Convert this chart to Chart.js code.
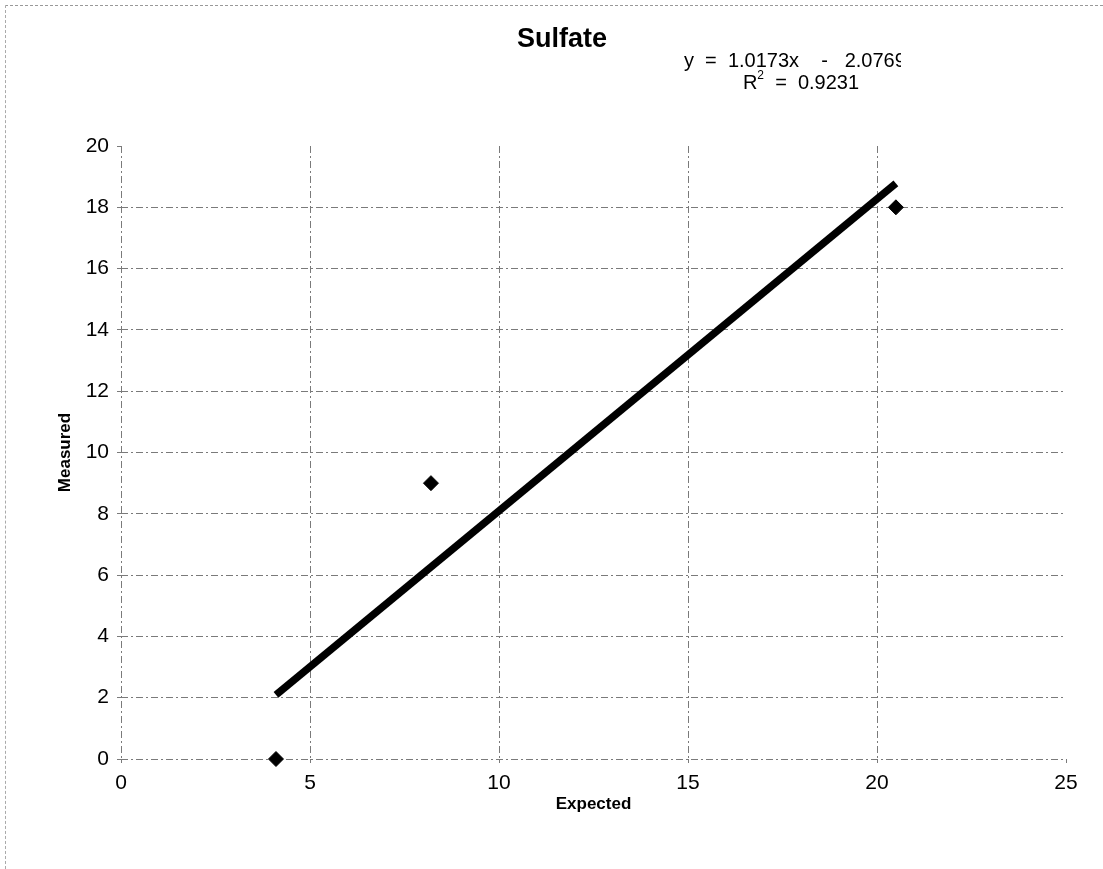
<!DOCTYPE html>
<html>
<head>
<meta charset="utf-8">
<script src="https://cdn.jsdelivr.net/npm/chart.js@4/dist/chart.umd.min.js"></script>
<style>
  html, body { margin: 0; padding: 0; background: #fff; }
  #wrap { position: relative; width: 1103px; height: 869px; }
  #frame { position: absolute; left: 5px; top: 5px; right: 0; bottom: 0;
           border-top: 1px dashed #999; border-left: 1px dashed #aaa; pointer-events: none; }
  canvas { position: absolute; left: 0; top: 0; }
</style>
</head>
<body>
<div id="wrap">
  <canvas id="c" width="1103" height="869"></canvas>
  <div id="frame"></div>
</div>
<script>
// ---- data ----
const chartTitle = "Sulfate";
const xAxisTitle = "Expected";
const yAxisTitle = "Measured";
const expected = [4.1, 8.2, 20.5];
const measured = [0, 9, 18];
const trendSlope = 1.0173;
const trendIntercept = -2.0769;
const trendR2 = 0.9231;
const xTicks = [0, 5, 10, 15, 20, 25];
const yTicks = [0, 2, 4, 6, 8, 10, 12, 14, 16, 18, 20];

const points = expected.map((x, i) => ({ x: x, y: measured[i] }));
const xMin = Math.min(...expected), xMax = Math.max(...expected);
const trendPoints = [xMin, xMax].map(x => ({ x: x, y: trendSlope * x + trendIntercept }));

const FONT = "'Liberation Sans', Arial, sans-serif";
const GRID = '#7a7a7a';

const textPlugin = {
  id: 'texts',
  afterDraw(chart) {
    const ctx = chart.ctx;
    ctx.save();
    ctx.fillStyle = '#000';
    ctx.textBaseline = 'middle';
    // title
    ctx.font = "bold 27px " + FONT;
    ctx.textAlign = 'center';
    ctx.fillText(chartTitle, 562, 40);
    // equation (clipped at the right like the original)
    ctx.save();
    ctx.beginPath();
    ctx.rect(0, 0, 901, 869);
    ctx.clip();
    ctx.font = "20px " + FONT;
    ctx.textAlign = 'left';
    const sign = trendIntercept < 0 ? '-' : '+';
    ctx.fillText('y  =  ' + trendSlope.toFixed(4) + 'x    ' + sign + '   ' + Math.abs(trendIntercept).toFixed(4), 684, 61);
    ctx.restore();
    // R squared
    ctx.font = "20px " + FONT;
    const rest = '  =  ' + trendR2.toFixed(4);
    const wR = ctx.measureText('R').width;
    ctx.font = "12px " + FONT;
    const w2 = ctx.measureText('2').width;
    ctx.font = "20px " + FONT;
    const wRest = ctx.measureText(rest).width;
    const total = wR + w2 + wRest;
    let x0 = 801 - total / 2;
    ctx.textAlign = 'left';
    ctx.fillText('R', x0, 83);
    ctx.font = "12px " + FONT;
    ctx.fillText('2', x0 + wR, 76);
    ctx.font = "20px " + FONT;
    ctx.fillText(rest, x0 + wR + w2, 83);
    ctx.restore();
  }
};

new Chart(document.getElementById('c'), {
  type: 'scatter',
  data: {
    datasets: [
      {
        label: 'Trend',
        data: trendPoints,
        showLine: true,
        borderColor: '#000',
        backgroundColor: '#000',
        borderWidth: 7.5,
        borderCapStyle: 'butt',
        pointRadius: 0,
        clip: false,
        order: 2
      },
      {
        label: 'Sulfate',
        data: points,
        pointStyle: 'rectRot',
        pointRadius: 7.5,
        pointBackgroundColor: '#000',
        pointBorderColor: '#000',
        pointBorderWidth: 1,
        clip: false,
        order: 1
      }
    ]
  },
  options: {
    responsive: false,
    animation: false,
    devicePixelRatio: 1,
    layout: { padding: { top: 146, right: 37, left: 0, bottom: 0 } },
    plugins: { legend: { display: false }, tooltip: { enabled: false }, title: { display: false } },
    scales: {
      x: {
        type: 'linear',
        min: xTicks[0], max: xTicks[xTicks.length - 1],
        afterBuildTicks(scale) { scale.ticks = xTicks.map(v => ({ value: v })); },
        afterFit(scale) { scale.height = 110; },
        ticks: { color: '#000', font: { family: FONT, size: 21 }, padding: 8, maxRotation: 0 },
        grid: {
          color: ctx => (ctx.tick && ctx.tick.value === xTicks[xTicks.length - 1]) ? 'rgba(0,0,0,0)' : GRID,
          tickColor: GRID, tickLength: 4, lineWidth: 1
        },
        border: { display: false, dash: [7, 3, 2, 3] },
        title: { display: true, text: xAxisTitle, color: '#000',
                 font: { family: FONT, size: 17, weight: 'bold' }, padding: { top: 0, bottom: 54 } }
      },
      y: {
        type: 'linear',
        min: yTicks[0], max: yTicks[yTicks.length - 1],
        afterBuildTicks(scale) { scale.ticks = yTicks.map(v => ({ value: v })); },
        afterFit(scale) { scale.width = 121; },
        ticks: { color: '#000', font: { family: FONT, size: 21 }, padding: 8 },
        grid: {
          color: ctx => (ctx.tick && ctx.tick.value === yTicks[yTicks.length - 1]) ? 'rgba(0,0,0,0)' : GRID,
          tickColor: GRID, tickLength: 4, lineWidth: 1
        },
        border: { display: false, dash: [7, 3, 2, 3] },
        title: { display: true, text: yAxisTitle, color: '#000',
                 font: { family: FONT, size: 17, weight: 'bold' }, padding: { top: 55, bottom: 0 } }
      }
    }
  },
  plugins: [textPlugin]
});
</script>
</body>
</html>
